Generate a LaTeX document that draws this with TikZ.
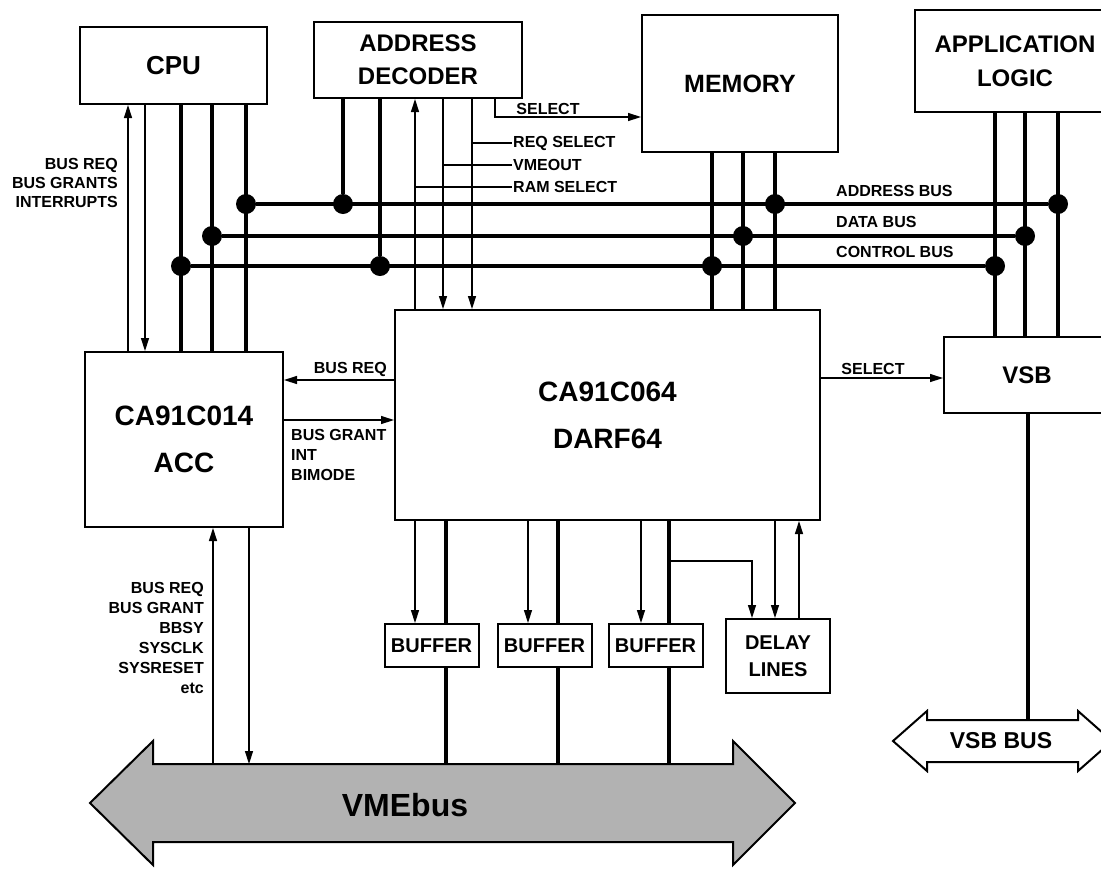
\documentclass[tikz,border=0pt]{standalone}
\usepackage{fontspec}
\setmainfont{Liberation Sans}
\usepackage{tikz}
\usetikzlibrary{arrows.meta,positioning}

\newcommand{\bfsz}[2]{\fontsize{#1}{#2}\selectfont\bfseries}

\begin{document}
\begin{tikzpicture}[x=1pt, y=-1pt,
  blk/.style={draw, line width=2pt, align=center, inner sep=0pt, fill=white, font={\bfsz{24}{33}}},
  bufbox/.style={blk, minimum width=94pt, minimum height=43pt, font={\bfsz{20}{27}}},
  bus/.style={line width=4.5pt},
  sig/.style={line width=1.4pt},
  arr/.style={sig, -{Triangle[length=13pt,width=8pt]}},
  dot/.style={circle, fill, inner sep=0pt, minimum size=20pt},
  lbl/.style={font={\bfsz{16}{20}}, inner sep=1pt}]
  \useasboundingbox (0,0) rectangle (1101,871);
  \clip (0,0) rectangle (1101,871);

  % blocks
  \node[blk, minimum width=187pt, minimum height=77pt, font={\bfsz{26}{33}}] (cpu) at (173.5,65.5) {CPU};
  \node[blk, minimum width=208pt, minimum height=76pt] (adec) at (418,60) {ADDRESS\\DECODER};
  \node[blk, minimum width=196pt, minimum height=137pt, font={\bfsz{25}{33}}] (mem) at (740,83.5) {MEMORY};
  \node[blk, minimum width=200pt, minimum height=102pt, font={\bfsz{24}{34}}] (app) at (1015,61) {APPLICATION\\LOGIC};
  \node[blk, minimum width=198pt, minimum height=175pt, font={\bfsz{28}{47}}] (acc) at (184,439.5) {CA91C014\\ACC};
  \node[blk, minimum width=425pt, minimum height=210pt, font={\bfsz{28}{47}}] (darf) at (607.5,415) {CA91C064\\DARF64};
  \node[blk, minimum width=166pt, minimum height=76pt] (vsb) at (1027,375) {VSB};
  \node[bufbox] (buf1) at (431.5,645.5) {BUFFER};
  \node[bufbox] (buf2) at (544.5,645.5) {BUFFER};
  \node[bufbox] (buf3) at (655.5,645.5) {BUFFER};
  \node[bufbox, minimum width=104pt, minimum height=74pt] (delay) at (778,656) {DELAY\\LINES};

  % bus taps
  \node[dot] (cpuA) at (246,204) {};
  \node[dot] (cpuD) at (212,236) {};
  \node[dot] (cpuC) at (181,266) {};
  \node[dot] (adecA) at (343,204) {};
  \node[dot] (adecC) at (380,266) {};
  \node[dot] (memA) at (775,204) {};
  \node[dot] (memD) at (743,236) {};
  \node[dot] (memC) at (712,266) {};
  \node[dot] (appA) at (1058,204) {};
  \node[dot] (appD) at (1025,236) {};
  \node[dot] (appC) at (995,266) {};

  \draw[bus] (cpuA) -- (appA);
  \draw[bus] (cpuD) -- (appD);
  \draw[bus] (cpuC) -- (appC);
  \node[lbl, anchor=south west] (abus) at (835,198) {ADDRESS BUS};
  \node[lbl, anchor=south west] (dbus) at (835,229) {DATA BUS};
  \node[lbl, anchor=south west] (cbus) at (835,259) {CONTROL BUS};

  \foreach \d in {cpuA,cpuD,cpuC} { \draw[bus] (cpu.south -| \d) -- (acc.north -| \d); }
  \foreach \d in {memA,memD,memC} { \draw[bus] (mem.south -| \d) -- (darf.north -| \d); }
  \foreach \d in {appA,appD,appC} { \draw[bus] (app.south -| \d) -- (vsb.north -| \d); }
  \draw[bus] (adec.south -| adecA) -- (adecA);
  \draw[bus] (adec.south -| adecC) -- (adecC);

  % CPU <-> ACC
  \draw[arr] (acc.north -| 128,0) -- (cpu.south -| 128,0);
  \draw[arr] (cpu.south -| 145,0) -- (acc.north -| 145,0);
  \node[lbl, anchor=north east, align=right, font={\bfsz{16}{19}}] (cpusig) at (119,157) {BUS REQ\\BUS GRANTS\\INTERRUPTS};

  % decoder <-> DARF64
  \draw[arr] (darf.north -| 415,0) -- (adec.south -| 415,0);
  \draw[arr] (adec.south -| 443,0) -- (darf.north -| 443,0);
  \draw[arr] (adec.south -| 472,0) -- (darf.north -| 472,0);
  \node[lbl, anchor=west] (reqsel) at (512,143) {REQ SELECT};
  \node[lbl, anchor=west] (vmeout) at (512,165) {VMEOUT};
  \node[lbl, anchor=west] (ramsel) at (512,187) {RAM SELECT};
  \draw[sig] (472,143) -- (reqsel.west);
  \draw[sig] (443,165) -- (vmeout.west);
  \draw[sig] (415,187) -- (ramsel.west);
  \draw[arr] (adec.south -| 495,0) |- (mem.west |- 0,117);
  \node[lbl, anchor=south] (msel) at (548,116) {SELECT};

  % ACC <-> DARF64
  \draw[arr] (darf.west |- 0,380) -- (acc.east |- 0,380);
  \node[lbl, anchor=south east] (breq) at (388,378) {BUS REQ};
  \draw[arr] (acc.east |- 0,420) -- (darf.west |- 0,420);
  \node[lbl, anchor=north west, align=left] (bgnt) at (290,428) {BUS GRANT\\INT\\BIMODE};

  % DARF64 -> VSB
  \draw[arr] (darf.east |- 0,378) -- (vsb.west |- 0,378);
  \node[lbl, anchor=south] (vsel) at (873,376) {SELECT};

  % VMEbus
  \coordinate (vmetop) at (0,764);
  \draw[line width=2pt, fill=gray!60] (90,803) -- (153,741) -- (153,764) -- (733,764) -- (733,741)
    -- (795,803) -- (733,865) -- (733,842) -- (153,842) -- (153,865) -- cycle;
  \node[font={\bfsz{32}{36}}] (vme) at (405,805) {VMEbus};

  \draw[arr] (vmetop -| 213,0) -- (acc.south -| 213,0);
  \draw[arr] (acc.south -| 249,0) -- (vmetop -| 249,0);
  \node[lbl, anchor=north east, align=right] (vmesig) at (205,581) {BUS REQ\\BUS GRANT\\BBSY\\SYSCLK\\SYSRESET\\etc};

  % buffers
  \foreach \b/\t/\k in {buf1/415/446, buf2/528/558, buf3/641/669} {
    \draw[arr] (darf.south -| \t,0) -- (\b.north -| \t,0);
    \draw[bus] (darf.south -| \k,0) -- (\b.north -| \k,0);
    \draw[bus] (\b.south -| \k,0) -- (vmetop -| \k,0);
  }

  % delay lines
  \coordinate (tap) at (669,561);
  \draw[arr] (tap) -| (delay.north -| 752,0);
  \draw[arr] (darf.south -| 775,0) -- (delay.north -| 775,0);
  \draw[arr] (delay.north -| 799,0) -- (darf.south -| 799,0);

  % VSB bus
  \coordinate (vsbtop) at (0,720);
  \draw[bus] (vsb.south -| 1028,0) -- (vsbtop -| 1028,0);
  \draw[line width=2pt, fill=white] (893,741) -- (927,711) -- (927,720) -- (1078,720) -- (1078,711)
    -- (1112,741) -- (1078,771) -- (1078,762) -- (927,762) -- (927,771) -- cycle;
  \node[font={\bfsz{23}{26}}] (vsbbus) at (1001,741) {VSB BUS};
\end{tikzpicture}
\end{document}
